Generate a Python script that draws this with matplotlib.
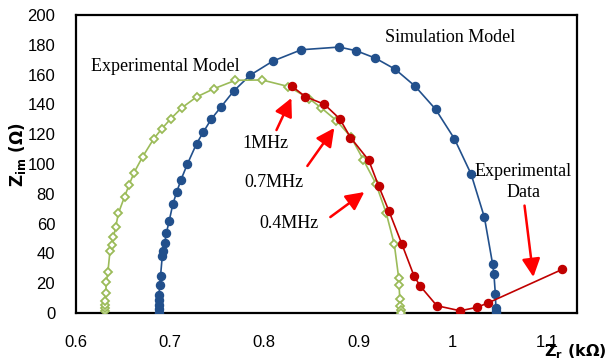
import matplotlib
matplotlib.use("Agg")
import matplotlib.pyplot as plt

# Impedance spectra: real part in kOhm, imaginary part in Ohm
model_zr = [0.6308, 0.6308, 0.6308, 0.6308, 0.6315, 0.6322, 0.6339, 0.6361, 0.6379, 0.6397,
            0.6421, 0.6450, 0.6516, 0.6562, 0.6617, 0.6707, 0.6824, 0.6909, 0.7004, 0.7121,
            0.7280, 0.7463, 0.7693, 0.7977, 0.8256, 0.8478, 0.8606, 0.8765, 0.8920, 0.9051,
            0.9184, 0.9295, 0.9380, 0.9427, 0.9431, 0.9438, 0.9443, 0.9447, 0.9449]
model_zim = [1.3, 3.4, 5.4, 8.1, 13.2, 20.6, 27.7, 41.6, 45.6, 50.8,
             57.5, 66.9, 78.1, 85.7, 94.3, 104.8, 116.8, 123.5, 130.2, 137.6,
             145.0, 150.5, 156.2, 156.4, 152.0, 143.8, 137.6, 129.2, 118.1, 102.9,
             86.9, 66.9, 46.2, 23.5, 19.1, 9.4, 4.9, 2.0, 0.2]

sim_zr = [0.6880, 0.6880, 0.6880, 0.6880, 0.6880, 0.6891, 0.6898, 0.6916, 0.6927, 0.6943,
          0.6959, 0.6990, 0.7029, 0.7068, 0.7116, 0.7183, 0.7280, 0.7351, 0.7436, 0.7542,
          0.7676, 0.7849, 0.8091, 0.8393, 0.8796, 0.8977, 0.9178, 0.9390, 0.9600, 0.9818,
          1.0018, 1.0196, 1.0337, 1.0424, 1.0438, 1.0453, 1.0459, 1.0461, 1.0461]
sim_zim = [0.3, 2.7, 5.4, 8.7, 12.1, 18.6, 25.0, 38.1, 41.7, 47.2,
           53.5, 61.9, 73.2, 80.9, 89.6, 100.0, 113.6, 121.3, 130.1, 138.5,
           149.1, 159.6, 169.1, 176.7, 178.5, 176.0, 171.1, 163.6, 152.3, 136.8,
           117.0, 93.2, 64.2, 32.9, 26.2, 13.0, 3.6, 1.3, 0.3]

exp_zr = [0.8295, 0.8436, 0.8637, 0.8800, 0.8915, 0.9109, 0.9213, 0.9323, 0.9461, 0.9589,
          0.9655, 0.9832, 1.0080, 1.0257, 1.0380, 1.1164]
exp_zim = [152.1, 145.2, 140.1, 130.4, 117.8, 102.5, 85.4, 68.5, 46.2, 25.0,
           18.1, 4.9, 1.5, 3.8, 6.9, 29.3]

x_ticks = [0.6, 0.7, 0.8, 0.9, 1.0, 1.1]
x_tick_labels = ["0.6", "0.7", "0.8", "0.9", "1", "1.1"]
y_ticks = [0, 20, 40, 60, 80, 100, 120, 140, 160, 180, 200]

# frequency markers: label, text position, arrow tail, arrow tip
freq_labels = ["1MHz", "0.7MHz", "0.4MHz"]
freq_text_xy = [(0.8017, 114.1), (0.8107, 87.9), (0.8261, 60.2)]
freq_tail_xy = [(0.8129, 122.8), (0.8457, 98.7), (0.8701, 64.4)]
freq_tip_xy = [(0.8287, 144.3), (0.8743, 124.2), (0.9062, 81.2)]

blue = "#22508c"
green = "#9bbb59"
red = "#c00000"
serif = "Liberation Serif"
fs = 13

fig = plt.figure(figsize=(6.06, 3.63), dpi=100)
ax = fig.add_axes([0.1254, 0.1377, 0.8267, 0.8209])

ax.plot(sim_zr, sim_zim, "-", color=blue, lw=1.2, marker="o", ms=5.8,
        mfc=blue, mec=blue, zorder=3)
ax.plot(model_zr, model_zim, "-", color=green, lw=1.2, marker="D", ms=4.5,
        mfc="white", mec=green, mew=1.3, zorder=4)
ax.plot(exp_zr, exp_zim, "-", color=red, lw=1.2, marker="o", ms=5.8,
        mfc=red, mec=red, zorder=5)

ax.set_xlim(0.6, 1.132)
ax.set_ylim(0, 200)
ax.set_xticks(x_ticks)
ax.set_xticklabels(x_tick_labels)
ax.set_yticks(y_ticks)
ax.tick_params(length=0, labelsize=12)
ax.tick_params(axis="x", pad=16)
ax.tick_params(axis="y", pad=15)
for lab in ax.get_xticklabels() + ax.get_yticklabels():
    lab.set_fontfamily("Liberation Sans")
for sp in ax.spines.values():
    sp.set_color("black")
    sp.set_linewidth(1.6)

arrow = dict(arrowstyle="-|>,head_length=1.1,head_width=0.55", color="red",
             lw=1.8, shrinkA=0, shrinkB=0)
for lab, txy, tail, tip in zip(freq_labels, freq_text_xy, freq_tail_xy, freq_tip_xy):
    ax.text(txy[0], txy[1], lab, family=serif, fontsize=fs, ha="center", va="center")
    ax.annotate("", xy=tip, xytext=tail, arrowprops=arrow, zorder=6)

ax.text(0.6156, 165.4, "Experimental Model", family=serif, fontsize=fs,
        ha="left", va="center")
ax.text(0.9284, 185.2, "Simulation Model", family=serif, fontsize=fs,
        ha="left", va="center")
ax.text(1.0748, 95.3, "Experimental", family=serif, fontsize=fs,
        ha="center", va="center")
ax.text(1.0751, 80.7, "Data", family=serif, fontsize=fs, ha="center", va="center")
ax.annotate("", xy=(1.0857, 24.2), xytext=(1.0763, 72.1), arrowprops=arrow, zorder=6)

fig.text(18 / 606, 1 - 155 / 363, r"$\mathbf{Z_{im}}$ ($\mathbf{\Omega}$)",
         rotation=90, ha="center", va="center", fontsize=12, fontweight="bold")
fig.text(575 / 606, 1 - 352 / 363, r"$\mathbf{Z_{r}}$ (k$\mathbf{\Omega}$)",
         ha="center", va="center", fontsize=11.5, fontweight="bold")

fig.savefig("out.png", dpi=100)
